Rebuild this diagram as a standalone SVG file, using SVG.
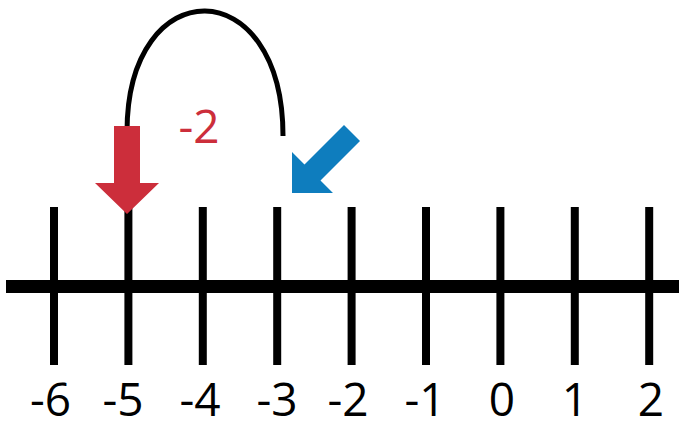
<svg xmlns="http://www.w3.org/2000/svg" width="685" height="430" viewBox="0 0 685 430">
<style>
.tick{stroke:#000;stroke-width:8;fill:none}
.axis{stroke:#000;stroke-width:13;fill:none}
.lbl{font-family:"Open Sans","Noto Sans",sans-serif;font-size:46px;fill:#000;text-anchor:middle}
.red{fill:#CC2E3B}
.blue{fill:#0E7DBE}
</style>
<rect width="685" height="430" fill="#fff"/>
<g id="numberline">
<line class="axis" x1="6" y1="286.5" x2="679" y2="286.5"/>
<line class="tick" x1="54" y1="207" x2="54" y2="365"/>
<line class="tick" x1="128.4" y1="207" x2="128.4" y2="365"/>
<line class="tick" x1="202.8" y1="207" x2="202.8" y2="365"/>
<line class="tick" x1="277.2" y1="207" x2="277.2" y2="365"/>
<line class="tick" x1="351.6" y1="207" x2="351.6" y2="365"/>
<line class="tick" x1="426" y1="207" x2="426" y2="365"/>
<line class="tick" x1="500.4" y1="207" x2="500.4" y2="365"/>
<line class="tick" x1="574.8" y1="207" x2="574.8" y2="365"/>
<line class="tick" x1="649.2" y1="207" x2="649.2" y2="365"/>
</g>
<g id="labels">
<text class="lbl" x="50.5" y="416">-6</text>
<text class="lbl" x="123" y="416">-5</text>
<text class="lbl" x="200" y="416">-4</text>
<text class="lbl" x="277" y="416">-3</text>
<text class="lbl" x="348" y="416">-2</text>
<text class="lbl" x="425" y="416">-1</text>
<text class="lbl" x="502" y="416">0</text>
<text class="lbl" x="575" y="416">1</text>
<text class="lbl" x="651" y="416">2</text>
</g>
<g id="connectors">
<path d="M127,132 C127,-30 283,-30 283,136" fill="none" stroke="#000" stroke-width="5"/>
</g>
<g id="red-arrow">
<polygon class="red" points="114,126 140,126 140,183 159,183 127,214 95,183 114,183"/>
</g>
<g id="blue-arrow">
<polygon class="blue" points="292,193 292,152 304.5,164.5 344,125 360,141 320.5,180.5 333,193"/>
</g>
<g id="jump-label">
<text x="199" y="143" style="font-family:'Open Sans','Noto Sans',sans-serif;font-size:46px;text-anchor:middle" class="red">-2</text>
</g>
</svg>
